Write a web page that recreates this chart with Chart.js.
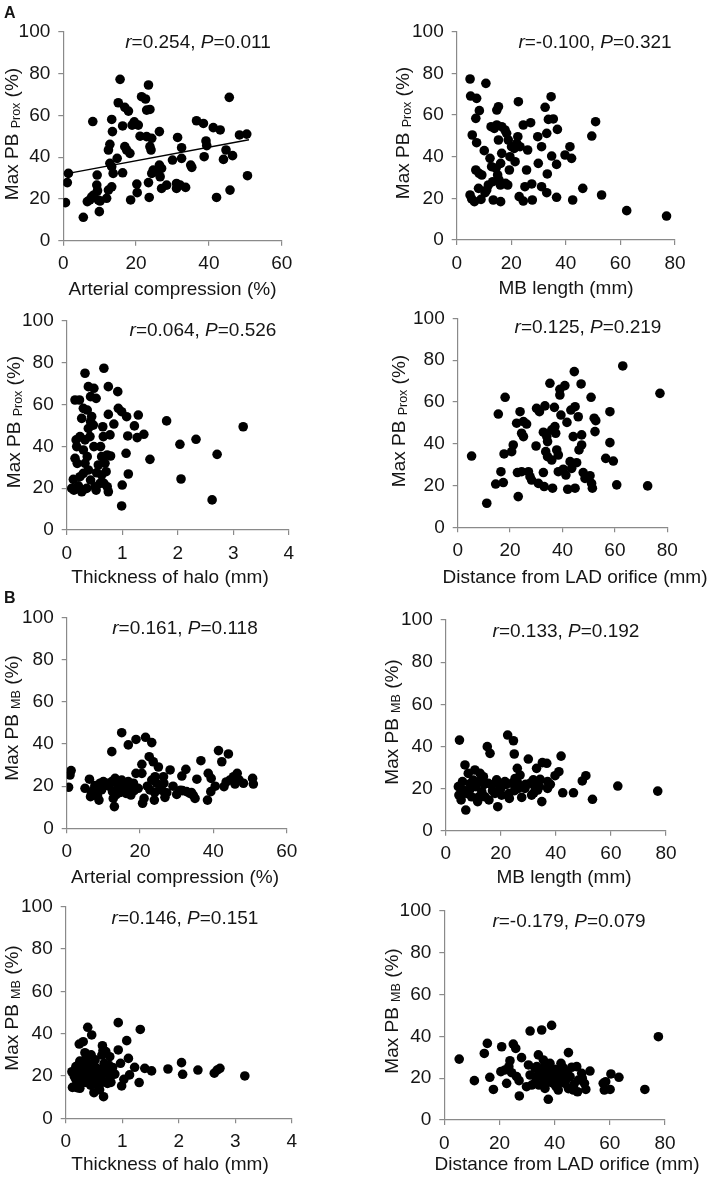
<!DOCTYPE html>
<html><head><meta charset="utf-8">
<script src="https://cdn.jsdelivr.net/npm/chart.js@4.4.0/dist/chart.umd.min.js"></script>
<style>
html,body{margin:0;padding:0;background:#fff;}
#wrap{position:relative;width:709px;height:1177px;overflow:hidden;background:#fff;}
canvas{position:absolute;}
</style></head><body><div id="wrap"></div>
<script>
// ---------- DATA ----------
// A: Max PB Prox (%)
const A1_compression = [0.6,1.1,1.4,5.5,8.1,6.6,7.3,7.8,8.4,9.2,9.3,9.4,9.6,9.9,10.1,11.9,12.4,12.8,13.3,13.5,12.8,13.3,13.7,13.3,12.4,14.8,15.1,15.6,16.3,16.3,16.9,17.9,16.9,17.4,18.3,18.5,18.9,19.5,20.6,20.2,20.3,21.1,21.5,22.6,23.4,22.9,23.8,22.9,24.3,23.8,24.1,23.4,23.6,24.3,24.7,25.6,26.4,26.4,27,26.6,27,28.4,30,31.4,31.1,31.1,32.5,32.5,32.1,33.6,35,35.3,36.6,38.5,38.7,39.2,39.4,41.2,42.1,43.1,44,44.7,45.6,45.8,46.5,48.4,50.4,50.6];
const A1_pbProx = [18.2,27.8,32.2,11.2,57,18.7,19.5,21,21.9,26.6,31.4,23.9,19.5,13.9,19,20.3,43.4,46.1,58,52.2,37,35.4,32.2,25.8,24.2,39.4,66,77.2,32.5,54.9,63.8,62,45,43.4,41.8,19.5,55.3,56.9,55.3,27.1,23,50,68.9,67.8,74.5,62.5,62.8,49.8,49,45,43.4,27.8,20.7,32.2,33.8,33,52.2,36.2,34.6,30.6,25,26.6,38.6,49.4,27.4,25,44.5,39.4,26.6,25.5,36.2,35.1,57.4,56.1,40.2,47.7,45.5,54.1,20.7,53,38.9,43.4,68.6,24.2,40.7,50.6,51,31.1];
const A1_trendX = [1, 51];
const A1_trendY = [32.1, 48.3];

const A2_mbLength = [4.9,5.1,7.3,10.7,8.3,7,5.7,7.3,10.1,4.9,5.5,6.5,8,8.9,7,8.2,9.2,10.4,11,11.6,12.6,12.2,12.8,13.2,13.8,14.7,15.3,14.7,15.3,14.4,15,15.5,16,16.1,16.5,13.4,16.1,16.5,17.7,18.3,18.9,17.9,18.7,19.3,19.5,20.1,21.1,21.4,22.4,22.6,22,23.2,22.9,24.4,24.4,25,25.6,26,27.1,27.5,27.7,29.7,29.9,31.1,31.1,32.4,33,33.2,33,34.6,33.6,35.4,34.8,36.6,36.6,36.9,39.7,41.5,42.1,42.5,46.2,49.5,50.9,53.1,62.3,76.9];
const A2_pbProx = [77.3,69.1,68,75.2,62.1,58.4,50.4,46.7,42.9,21.6,19.7,18.4,24.8,19.5,33.6,32,31.2,22.7,24,26.4,54.4,39.2,35.2,28,53.6,62.4,64,55.2,48,34.4,31.2,28.8,26.4,36.8,41.6,19.2,18.4,54.4,52.8,51.2,48,27.2,26.4,33.6,40,44.8,44,37.6,49.6,66.4,46.4,44.8,20.8,55.2,18.7,25.6,33.6,43.2,56.3,26.9,19.2,49.6,36.8,44.8,25.6,63.7,51.2,31.7,22.7,68.8,57.9,58.1,40.3,20.5,36.3,53.1,40.8,44.8,39.2,19.2,24.8,49.9,56.8,21.6,14.1,11.5];

const A3_halo = [0.15,0.23,0.17,0.18,0.15,0.19,0.12,0.09,0.13,0.21,0.24,0.27,0.33,0.27,0.30,0.37,0.39,0.49,0.43,0.53,0.43,0.39,0.42,0.33,0.30,0.37,0.33,0.39,0.30,0.43,0.36,0.49,0.54,0.53,0.61,0.63,0.67,0.65,0.66,0.63,0.69,0.71,0.67,0.75,0.75,0.73,0.78,0.79,0.73,0.75,0.85,0.92,0.93,0.99,1.08,1.0,0.99,1.07,1.1,1.11,1.22,1.29,1.27,1.39,1.5,1.8,2.04,2.06,2.33,2.62,2.71,3.18,0.24,0.29,0.48,0.45,0.51,0.57,0.6];
const A3_pbProx = [62.2,62.2,43.1,39.9,34.3,31.9,24.2,19.9,19.1,21.1,25.5,18.3,75,53.4,58.2,57.4,68.6,67.8,63.8,63,51.8,48.6,44.7,43.1,38.3,35.1,31.9,28.7,27.1,23.9,19.9,39.9,27.4,19.1,39.9,26.3,77.4,49.4,44.7,35.1,31.9,27.9,22.3,68.6,55.3,35.9,45.5,35.4,20.7,18.3,50.7,66.2,58.2,56.6,54.2,21.5,11.5,36.7,45,26.8,49.8,55,44.2,45.8,33.8,52.2,41,24.4,43.4,14.4,36.2,49.4,44.7,19.1,50.2,54.3,20.7,31.1,22.3];

const A4_distance = [5.3,11.1,14.5,15.5,16.5,17.4,18.1,17.7,20.6,21.2,22.5,23.1,22.8,23.8,24.4,25.1,24.4,25.1,26.3,27,27.6,28.2,29.9,30.1,31.2,30.8,33.3,32.7,32.7,33,33.6,34,34.3,34.3,35.2,35.9,35.9,36.2,36.9,37.1,37.4,37.8,38.4,38.4,39,39,39.4,40.3,40.9,41.3,41.7,42,42.9,43.2,43.5,44.5,44.8,44.1,44.8,45.4,46,46.3,47.1,47.3,47.3,47.9,48.6,50.9,50.5,51.1,51.4,52.1,52.4,52.7,56.5,58.1,58.1,59.4,60.7,63,72.5,77.2];
const A4_pbProx = [34.1,11.5,20.7,54.2,26.6,21.4,62.2,35.1,36.2,39.4,49.8,14.7,26.2,55.3,45,43.4,26.6,50.6,49.4,26.6,24.2,22.6,38.9,56.9,55.3,21,58.1,45.5,26.2,19.5,36.2,43.4,33.8,41,68.9,46.6,32.2,18.7,57.4,48.2,45,37,34.6,26.6,66,63.3,53.7,27.8,67.8,25,50.2,18.2,31.4,56.1,28.2,74.5,57.7,43.4,18.7,30.9,52.9,37,68.6,44.2,39.4,26.2,23.4,62.2,24.7,21,18.7,52.2,45.8,51,33,55.3,40.5,31.7,20.3,77.2,19.8,64.1];

// B: Max PB MB (%)
const B1_compression = [0.5,0.9,1.2,5,6.2,6.5,7.3,7.7,8.4,8.8,9.1,10,10.9,9.5,12.3,12.3,12.5,12.7,13,13.2,13.6,14.1,15,15,15.6,16.2,16.8,16.8,17.3,17.5,18.2,18.4,18.9,18.9,20.5,20.5,20.7,21.1,21.5,22.5,23.2,22.7,23.2,23.6,23.9,24.1,24.5,25,25.5,26.4,26.5,26.8,27.3,28.2,30,31.4,31.6,32.5,32.7,33.6,34.5,35,35.5,36.6,38.4,38.6,39.4,39.3,41.4,42.3,42.9,44.1,44.5,45.5,46.5,45.9,48.2,50.7,50.9,6.8,8,11.5,14.5,16,19.5,22,24,26,29,31,34,40.5,43.5,47,13.5];
const B1_pbMB = [19.5,25.3,27.4,19,23.3,15,18.2,20.3,15.3,13.4,21.4,22.2,21.4,18.2,36.4,22.2,17.4,14.2,10.3,23.7,21.4,19,45.4,22.9,19.8,16.6,39.6,22.2,19,15.8,21.4,17.9,42.2,26.1,30.4,26.1,11.9,14.2,43.2,34,40.7,18.2,22.9,31.6,13.4,24.5,21.4,29.1,19,24.5,21.4,14.7,16.9,27.7,16.1,24.8,17.9,28,17.4,16.6,15.8,14.2,23.3,32.1,13.4,26.1,23.7,17.4,36.9,31.6,19.8,35.3,22.9,24.5,26.1,21,21.4,23.7,21,17,19,20,17,21,19,20,17,18,20,18,17,20,22,23,16];

const B2_mbLength = [5,4.6,4.8,5.6,6.1,7,7.3,6.4,7.6,8.2,8.8,9.4,10.6,11,11.6,12.5,12.8,13.1,13.7,14.3,15.1,16.1,15.5,15.7,16.7,17.9,18.5,18.9,19.7,20.3,21.5,22.5,23,23.1,24.6,24.9,24,25.2,26,27,26.4,27.6,28.8,30,30.6,31.2,31.8,32.4,33,33.4,34.3,34.9,35.1,36.7,37,37,39.7,41.1,41.9,42.5,46.4,49.6,50.9,53.3,62.5,77,6,9,10,12,14,17,20,22,25,29,32,34,38,26];
const B2_pbMB = [43,20.9,16.9,14.6,23.3,31.2,9.8,19.3,17.7,27.2,22.2,16.1,28.8,20.9,13.8,27.2,24.1,18.5,25.6,16.1,39.9,36.7,22.5,14.6,21.7,17.7,24.1,11.4,20.9,16.9,23.3,45.4,17.7,15.3,42.7,36.4,22.5,24.8,29.6,26.4,20.1,15.8,20.1,34,22.5,16.9,24.1,20.9,29.6,19.3,24.4,13.8,32.3,32,23.3,20.1,26.1,28,35.4,18,18,23.6,26.1,14.9,21.2,18.8,18,20,24,16,22,19,20,22,19,22,18,21,22,23];

const B3_halo = [0.11,0.12,0.17,0.22,0.24,0.31,0.34,0.28,0.31,0.25,0.37,0.39,0.4,0.42,0.46,0.44,0.49,0.5,0.52,0.55,0.58,0.61,0.64,0.65,0.67,0.7,0.71,0.74,0.76,0.78,0.81,0.87,0.93,0.93,0.97,0.99,1.03,1.08,1.11,1.13,1.22,1.3,1.32,1.4,1.52,1.81,2.05,2.07,2.34,2.63,2.68,2.73,3.17,0.18,0.52,0.61,0.31,0.55,0.73,0.78,0.46,0.15,0.2,0.27,0.33,0.36,0.42,0.48,0.53,0.58,0.63,0.68,0.72,0.8,0.35,0.25,0.45,0.6,0.2,0.83,0.66];
const B3_pbMB = [22,14.6,18.9,23.1,35.1,36.2,31,16.5,26.8,14.2,21.3,43,26,19.7,39.4,15.7,22.8,12.1,27.6,18.1,15,23.1,29.9,34.3,10.2,21.3,31.5,16.5,25.2,18.9,22,20.9,45.2,32.3,26,15.3,18.4,36.7,28.3,20.5,24.1,16.9,42,23.6,22.4,23.3,26.3,20.8,22.8,21.3,22.8,23.6,20,24.4,19.1,16.5,21.7,21.3,22.8,29.1,20.5,20,17,20,24,17,23,18,24,20,18,26,24,17,28,27,30,13.5,14.5,24,32];

const B4_distance = [5.4,10.9,14.5,15.6,16.5,17.8,20.8,20.5,22,22.6,23.4,23.8,24.4,25,25.9,26.2,27.1,27.2,28,29.8,30.5,31.1,31.1,31.7,32.9,33.5,34.1,34.3,35.3,35,35.9,36.3,36.5,37.1,37.7,38.3,38.9,38.7,39.5,40.1,40.7,41.3,42.3,42.8,43.7,45,44.4,45.6,46.2,46.8,48,48.3,48.6,49.8,50.8,51.3,52.8,57.6,58,58.5,60.1,60.4,63.3,72.7,77.6,33.5,33,34.5,36,37.5,39,40.5,41.5,43,44,47,45,38,42,36.8,35.5,50];
const B4_pbMB = [29.1,18.8,31.8,36.6,20.4,14.6,35,23.1,23.9,17.5,25.5,28.3,22.6,36.3,34.2,20.7,18.8,11.5,29.8,15.9,26.3,42.5,21.5,16.7,24.7,20.7,31.1,16.7,43,23.1,28.7,19.9,15.1,24.2,9.9,27.1,45.2,21.5,17.5,24.2,19.9,14.3,27.1,22.3,17.5,32.2,23.1,20.7,25.2,14.3,25.5,13.5,19.1,22.3,17.5,14.6,23.4,17.5,14.3,18.3,14.6,22,20.4,14.6,39.8,25.5,18,21,25,18,22,16,21,25,19,17,15,20,18,22.5,17,20];

const yTicks = [0, 20, 40, 60, 80, 100];

// ---------- STYLE ----------
const FONT = "'Liberation Sans', Arial, Helvetica, sans-serif";
const TXT = '#151515';
const AX = '#8a8a8a';

function zip(xs, ys) {
  const n = Math.min(xs.length, ys.length);
  const out = [];
  for (let i = 0; i < n; i++) out.push({x: xs[i], y: ys[i]});
  return out;
}

const panelText = {
  id: 'panelText',
  afterDraw(chart, args, o) {
    const ctx = chart.ctx;
    const ox = o.box[0], oy = o.box[1];
    ctx.save();
    ctx.fillStyle = TXT;
    ctx.textBaseline = 'alphabetic';
    ctx.textAlign = 'left';
    // x title
    ctx.font = `19px ${FONT}`;
    const xw = ctx.measureText(o.xTitle).width;
    ctx.fillText(o.xTitle, o.xTitleAt[0] - ox - xw / 2, o.xTitleAt[1] - oy);
    // statistics
    const parts = [['r', true], ['=' + o.r + ', ', false], ['P', true], ['=' + o.P, false]];
    let tot = 0;
    parts.forEach(p => { ctx.font = `${p[1] ? 'italic ' : ''}19px ${FONT}`; p.w = ctx.measureText(p[0]).width; tot += p.w; });
    let x = o.statAt[0] - ox - tot / 2;
    parts.forEach(p => { ctx.font = `${p[1] ? 'italic ' : ''}19px ${FONT}`; ctx.fillText(p[0], x, o.statAt[1] - oy); x += p.w; });
    // panel letter
    if (o.letter) {
      ctx.font = `bold 16px ${FONT}`;
      ctx.fillText(o.letter, o.letterAt[0] - ox, o.letterAt[1] - oy);
    }
    // y title (rotated, with subscript)
    ctx.translate(o.yTitleAt[0] - ox, o.yTitleAt[1] - oy);
    ctx.rotate(-Math.PI / 2);
    const yp = [['Max PB ', 19, 0], [o.ySub, 12.5, 2], [' (%)', 19, 0]];
    let yt = 0;
    yp.forEach(p => { ctx.font = `${p[1]}px ${FONT}`; p.w = ctx.measureText(p[0]).width; yt += p.w; });
    let yx = -yt / 2;
    yp.forEach(p => { ctx.font = `${p[1]}px ${FONT}`; ctx.fillText(p[0], yx, p[2]); yx += p.w; });
    ctx.restore();
  }
};

function makePanel(c) {
  const [bl, bt, bw, bh] = c.box;
  const [pl, pt, pr, pb] = c.plot;
  const cv = document.createElement('canvas');
  cv.width = bw; cv.height = bh;
  cv.style.left = bl + 'px'; cv.style.top = bt + 'px';
  cv.style.width = bw + 'px'; cv.style.height = bh + 'px';
  document.getElementById('wrap').appendChild(cv);
  const datasets = [{
    data: zip(c.xs, c.ys),
    backgroundColor: '#000', borderColor: '#000',
    pointRadius: 4.8, pointBorderWidth: 0, pointHoverRadius: 4.8
  }];
  if (c.trend) {
    datasets.push({
      data: zip(c.trend[0], c.trend[1]),
      showLine: true, pointRadius: 0, borderColor: '#000', borderWidth: 1.4, fill: false
    });
  }
  const tickFont = {family: FONT, size: 19};
  new Chart(cv, {
    type: 'scatter',
    data: {datasets},
    options: {
      responsive: false, animation: false, devicePixelRatio: 1,
      layout: {padding: {left: 0, top: pt - bt, right: bl + bw - pr, bottom: 0}},
      plugins: {legend: {display: false}, tooltip: {enabled: false}, panelText: c},
      scales: {
        x: {
          type: 'linear', min: 0, max: c.xMax,
          afterFit: s => { s.height = bt + bh - pb; },
          ticks: {stepSize: c.xStep, font: tickFont, color: TXT, padding: 7, maxRotation: 0},
          grid: {drawOnChartArea: false, drawTicks: true, tickLength: 5, color: AX, lineWidth: 1.2},
          border: {display: true, color: AX, width: 1.2}
        },
        y: {
          type: 'linear', min: 0, max: 100,
          afterFit: s => { s.width = pl - bl; },
          afterBuildTicks: s => { s.ticks = yTicks.map(v => ({value: v})); },
          ticks: {font: tickFont, color: TXT, padding: 8},
          grid: {drawOnChartArea: false, drawTicks: true, tickLength: 5, color: AX, lineWidth: 1.2},
          border: {display: true, color: AX, width: 1.2}
        }
      }
    },
    plugins: [panelText]
  });
}

const panels = [
  {box: [0, 0, 354, 305], plot: [63.3, 31.7, 281.7, 240.7], xMax: 60, xStep: 20, xs: A1_compression, ys: A1_pbProx, trend: [A1_trendX, A1_trendY],
   xTitle: 'Arterial compression (%)', xTitleAt: [172.5, 295], ySub: 'Prox', yTitleAt: [17.5, 134], r: '0.254', P: '0.011', statAt: [198, 47.5], letter: 'A', letterAt: [4, 18]},
  {box: [354, 0, 355, 305], plot: [456.7, 31.7, 675, 240], xMax: 80, xStep: 20, xs: A2_mbLength, ys: A2_pbProx,
   xTitle: 'MB length (mm)', xTitleAt: [566, 294], ySub: 'Prox', yTitleAt: [409, 133], r: '-0.100', P: '0.321', statAt: [595, 47.5]},
  {box: [0, 295, 354, 300], plot: [66.7, 321, 288.7, 530], xMax: 4, xStep: 1, xs: A3_halo, ys: A3_pbProx,
   xTitle: 'Thickness of halo (mm)', xTitleAt: [170, 583], ySub: 'Prox', yTitleAt: [19.5, 422], r: '0.064', P: '0.526', statAt: [203, 336]},
  {box: [354, 295, 355, 300], plot: [457.7, 318.3, 667.3, 527.3], xMax: 80, xStep: 20, xs: A4_distance, ys: A4_pbProx,
   xTitle: 'Distance from LAD orifice (mm)', xTitleAt: [575, 583], ySub: 'Prox', yTitleAt: [405, 421], r: '0.125', P: '0.219', statAt: [588, 333]},
  {box: [0, 585, 354, 310], plot: [66.7, 617.7, 286.7, 828.3], xMax: 60, xStep: 20, xs: B1_compression, ys: B1_pbMB,
   xTitle: 'Arterial compression (%)', xTitleAt: [175, 883], ySub: 'MB', yTitleAt: [17.5, 718], r: '0.161', P: '0.118', statAt: [185, 634], letter: 'B', letterAt: [4, 603]},
  {box: [354, 585, 355, 310], plot: [445.7, 620, 666, 830.7], xMax: 80, xStep: 20, xs: B2_mbLength, ys: B2_pbMB,
   xTitle: 'MB length (mm)', xTitleAt: [564, 883], ySub: 'MB', yTitleAt: [398, 722], r: '0.133', P: '0.192', statAt: [566, 637]},
  {box: [0, 880, 354, 297], plot: [65.7, 906.7, 291.7, 1118.3], xMax: 4, xStep: 1, xs: B3_halo, ys: B3_pbMB,
   xTitle: 'Thickness of halo (mm)', xTitleAt: [170, 1170], ySub: 'MB', yTitleAt: [18, 1008], r: '0.146', P: '0.151', statAt: [185, 924]},
  {box: [354, 880, 355, 297], plot: [444.3, 910.7, 665, 1120], xMax: 80, xStep: 20, xs: B4_distance, ys: B4_pbMB,
   xTitle: 'Distance from LAD orifice (mm)', xTitleAt: [567, 1170], ySub: 'MB', yTitleAt: [398, 1011], r: '-0.179', P: '0.079', statAt: [569, 927]}
];
panels.forEach(makePanel);
</script>
</body></html>
